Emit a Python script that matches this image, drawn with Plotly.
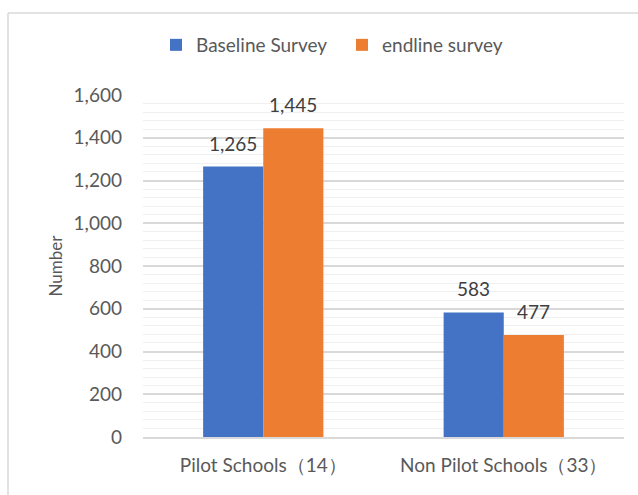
import plotly.graph_objects as go

categories = ["Pilot Schools（14）", "Non Pilot Schools（33）"]
baseline = [1265, 583]
endline = [1445, 477]
series_names = ["Baseline Survey", "endline survey"]
y_ticks = [0, 200, 400, 600, 800, 1000, 1200, 1400, 1600]

W, H = 638, 495
L, R, T, B = 143, 14, 95, 58
pw, ph = W - L - R, H - T - B

font = "Lato, 'Open Sans', sans-serif"
txt = "#595959"

fig = go.Figure()
series = [(series_names[0], baseline, "#4472C4", -30), (series_names[1], endline, "#ED7D31", 30)]
for name, vals, col, shift in series:
    fig.add_trace(go.Bar(
        x=categories, y=vals, name=name, marker=dict(color=col, line=dict(width=0)),
    ))
    for c, v in zip(categories, vals):
        fig.add_annotation(x=c, y=v, xref="x", yref="y", text=f"{v:,}", showarrow=False,
                           xshift=shift, yanchor="bottom", yshift=10,
                           font=dict(size=19, color="#404040", family=font))

def px_x(x):
    return (x - L) / pw

def px_y(y):
    return (H - B - y) / ph

shapes = [
    dict(type="line", xref="paper", yref="paper", x0=px_x(8), x1=px_x(8), y0=px_y(13), y1=px_y(H + 5),
         line=dict(color="#d9d9d9", width=1.5)),
    dict(type="line", xref="paper", yref="paper", x0=px_x(8), x1=px_x(W + 5), y0=px_y(13), y1=px_y(13),
         line=dict(color="#d9d9d9", width=1.5)),
]

fig.update_layout(
    width=W, height=H,
    margin=dict(l=L, r=R, t=T, b=B),
    paper_bgcolor="white", plot_bgcolor="white",
    barmode="group", bargap=0.5, bargroupgap=0,
    font=dict(family=font, color=txt, size=18),
    legend=dict(orientation="h", x=px_x(156), xanchor="left", y=px_y(45), yanchor="middle",
                font=dict(size=19, color=txt), entrywidth=141, entrywidthmode="pixels",
                traceorder="normal"),
    shapes=shapes,
    xaxis=dict(showgrid=False, showline=True, linecolor="#d9d9d9", linewidth=1.5,
               tickfont=dict(size=19, color=txt), ticks="", ticklabelstandoff=10),
    yaxis=dict(range=[0, 1600], tickvals=y_ticks, tickformat=",", showgrid=True,
               gridcolor="#d9d9d9", gridwidth=1.5, zeroline=False,
               tickfont=dict(size=19, color=txt), ticklabelstandoff=20,
               minor=dict(dtick=40, showgrid=True, gridcolor="#f0f0f0", gridwidth=1),
               title=dict(text="Number", font=dict(size=17, color=txt), standoff=6)),
)

fig.write_html("out.html")
